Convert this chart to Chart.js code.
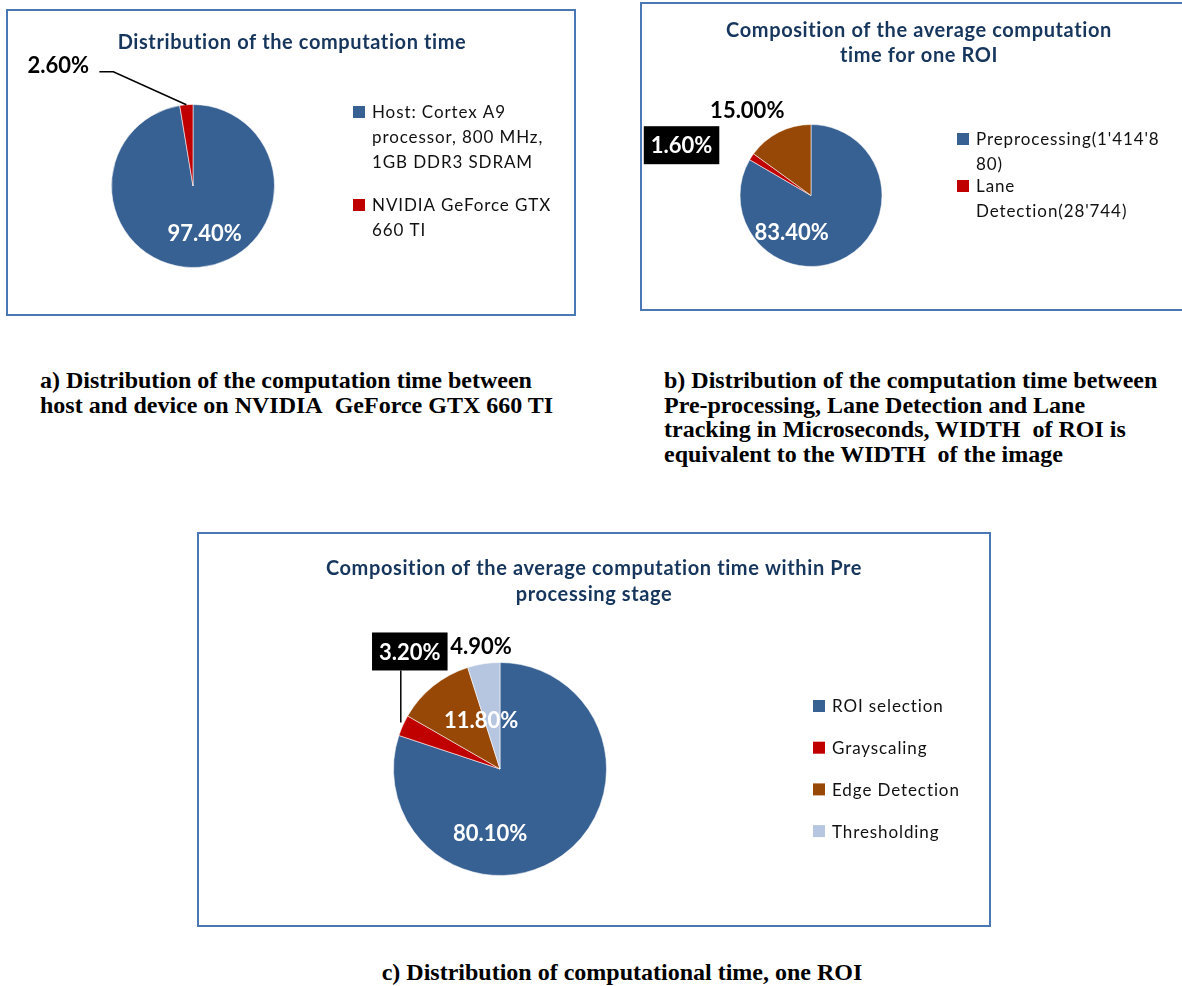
<!DOCTYPE html>
<html lang="en">
  <head>
    <meta charset="UTF-8" />
    <title>Computation time distribution</title>
    <script src="https://cdn.jsdelivr.net/npm/chart.js"></script>
    <style>
      html,
      body {
        margin: 0;
        width: 1182px;
        height: 986px;
        overflow: hidden;
        background: #fff;
      }
      .box {
        position: absolute;
        box-sizing: border-box;
        border: 2px solid #4a78b5;
      }
      .box canvas {
        display: block;
      }
      .caption {
        position: absolute;
        font-family: "Liberation Serif", "Times New Roman", serif;
        font-weight: bold;
        font-size: 24px;
        line-height: 24.5px;
        color: #000;
        white-space: nowrap;
      }
    </style>
  </head>
  <body>
    <div class="box" style="left: 6px; top: 9px; width: 570px; height: 307px">
      <canvas id="chartA" width="566" height="303"></canvas>
    </div>
    <div class="box" style="left: 640px; top: 2px; width: 560px; height: 309px">
      <canvas id="chartB" width="556" height="305"></canvas>
    </div>
    <div class="box" style="left: 197px; top: 532px; width: 794px; height: 395px">
      <canvas id="chartC" width="790" height="391"></canvas>
    </div>

    <div class="caption" style="left: 40px; top: 368px">
      a) Distribution of the computation time between<br />
      host and device on NVIDIA&nbsp; GeForce GTX 660 TI
    </div>
    <div class="caption" style="left: 664px; top: 368px">
      b) Distribution of the computation time between<br />
      Pre-processing, Lane Detection and Lane<br />
      tracking in Microseconds, WIDTH&nbsp; of ROI is<br />
      equivalent to the WIDTH&nbsp; of the image
    </div>
    <div class="caption" style="left: 372px; top: 960px; width: 500px; text-align: center">
      c) Distribution of computational time, one ROI
    </div>

    <script>
      // chart data
      const hostLabels = [
        "Host: Cortex A9 processor, 800 MHz, 1GB DDR3 SDRAM",
        "NVIDIA GeForce GTX 660 TI",
      ];
      const hostValues = [97.4, 2.6];

      const roiLabels = [
        "Preprocessing(1'414'880)",
        "Lane Detection(28'744)",
        "Lane Tracking",
      ];
      const roiValues = [83.4, 1.6, 15.0];

      const preLabels = ["ROI selection", "Grayscaling", "Edge Detection", "Thresholding"];
      const preValues = [80.1, 3.2, 11.8, 4.9];

      const titleA = ["Distribution of the computation time"];
      const titleB = ["Composition of the average computation", "time for one ROI"];
      const titleC = [
        "Composition of the average computation time within Pre",
        "processing stage",
      ];

      const sliceColors = ["#386193", "#c00000", "#974806", "#b7c6e0"];
      const titleColor = "#17365d";
      const sansFont = "Lato, 'Open Sans', sans-serif";

      // word wrap like Excel: break long words by character
      function wrapText(ctx, text, maxWidth) {
        const lines = [];
        let line = "";
        text.split(" ").forEach((word) => {
          const test = line ? line + " " + word : word;
          if (ctx.measureText(test).width <= maxWidth) {
            line = test;
            return;
          }
          if (line) lines.push(line);
          line = "";
          for (const ch of word) {
            if (ctx.measureText(line + ch).width > maxWidth && line) {
              lines.push(line);
              line = ch;
            } else {
              line += ch;
            }
          }
        });
        if (line) lines.push(line);
        return lines;
      }

      // titles, legends and data labels
      const decorPlugin = {
        id: "decor",
        afterDraw(chart, args, opts) {
          const ctx = chart.ctx;
          const meta = chart.getDatasetMeta(0);
          const values = chart.data.datasets[0].data;
          ctx.save();

          // title
          ctx.fillStyle = titleColor;
          ctx.font = "bold 20px " + sansFont;
          ctx.letterSpacing = "0.6px";
          ctx.textAlign = "center";
          ctx.textBaseline = "middle";
          opts.title.lines.forEach((t, i) => {
            ctx.fillText(t, opts.title.x, opts.title.y + i * opts.title.lineHeight);
          });

          // legend
          const lg = opts.legend;
          ctx.font = "17px " + sansFont;
          ctx.letterSpacing = "0.9px";
          ctx.textAlign = "left";
          let y = lg.y;
          chart.data.labels.slice(0, lg.count).forEach((label, i) => {
            ctx.fillStyle = sliceColors[i];
            ctx.fillRect(lg.boxX, y - 6, 12, 12);
            ctx.fillStyle = "#111";
            const lines = wrapText(ctx, label, lg.maxWidth);
            lines.forEach((l, j) => ctx.fillText(l, lg.textX, y + 1 + j * lg.lineHeight));
            y += lines.length * lg.lineHeight + lg.gap;
          });

          // data labels
          ctx.font = "bold 22px " + sansFont;
          ctx.letterSpacing = "0px";
          ctx.textAlign = "center";
          meta.data.forEach((arc, i) => {
            const lab = opts.labels[i];
            const p = arc.getProps(["x", "y", "startAngle", "endAngle", "outerRadius"], true);
            const mid = (p.startAngle + p.endAngle) / 2;
            const ax = p.x + Math.cos(mid) * p.outerRadius * lab.f;
            const ay = p.y + Math.sin(mid) * p.outerRadius * lab.f;
            const tx = ax + lab.dx;
            const ty = ay + lab.dy;
            const text = values[i].toFixed(2) + "%";

            if (lab.leader) {
              ctx.strokeStyle = "#000";
              ctx.lineWidth = 1.5;
              ctx.beginPath();
              lab.leader.forEach(([lx, ly], k) => {
                if (k === 0) ctx.moveTo(ax + lx, ay + ly);
                else ctx.lineTo(ax + lx, ay + ly);
              });
              ctx.stroke();
            }
            if (lab.box) {
              const w = ctx.measureText(text).width + 14;
              ctx.fillStyle = "#000";
              ctx.fillRect(tx - w / 2, ty - 19, w, 38);
            }
            ctx.fillStyle = lab.color;
            ctx.fillText(text, tx, ty + 1);
          });
          ctx.restore();
        },
      };

      function makePie(id, labels, values, padding, decor) {
        return new Chart(document.getElementById(id), {
          type: "pie",
          data: {
            labels: labels,
            datasets: [
              {
                data: values,
                backgroundColor: sliceColors.slice(0, values.length),
                borderColor: "rgba(255,255,255,0.55)",
                borderWidth: 1,
              },
            ],
          },
          options: {
            responsive: false,
            animation: false,
            layout: { padding: padding },
            plugins: {
              legend: { display: false },
              tooltip: { enabled: false },
              decor: decor,
            },
          },
          plugins: [decorPlugin],
        });
      }

      // a) host vs device
      makePie(
        "chartA",
        hostLabels,
        hostValues,
        { left: 103, right: 299, top: 93, bottom: 46 },
        {
          title: { lines: titleA, x: 284, y: 32, lineHeight: 26 },
          legend: { boxX: 345, textX: 364, y: 101, lineHeight: 25, gap: 18, maxWidth: 186, count: 2 },
          labels: [
            { f: 0.56, dx: 8, dy: 1, color: "#fff" },
            { f: 1, dx: -128, dy: -40, color: "#000", leader: [[0, 0], [-73, -33], [-87, -33]] },
          ],
        }
      );

      // b) one ROI
      makePie(
        "chartB",
        roiLabels,
        roiValues,
        { left: 97, right: 315, top: 120, bottom: 42 },
        {
          title: { lines: titleB, x: 277, y: 27, lineHeight: 25 },
          legend: { boxX: 315, textX: 334, y: 135, lineHeight: 25, gap: -3, maxWidth: 192, count: 2 },
          labels: [
            { f: 0.5, dx: -37, dy: 5.5, color: "#fff" },
            { f: 1, dx: -70, dy: -11.5, color: "#fff", box: true },
            { f: 1, dx: -31.5, dy: -22, color: "#000" },
          ],
        }
      );

      // c) pre-processing stage
      makePie(
        "chartC",
        preLabels,
        preValues,
        { left: 194, right: 382, top: 128, bottom: 49 },
        {
          title: { lines: titleC, x: 395, y: 35, lineHeight: 26 },
          legend: { boxX: 614, textX: 633, y: 172, lineHeight: 25, gap: 16.7, maxWidth: 200, count: 4 },
          labels: [
            { f: 0.5, dx: -41, dy: 20.6, color: "#fff" },
            { f: 1, dx: 7, dy: -74, color: "#fff", box: true, leader: [[-2, -3], [-2, -55]] },
            { f: 0.5, dx: 14.6, dy: -7.4, color: "#fff" },
            { f: 1, dx: -2.6, dy: -18.3, color: "#000" },
          ],
        }
      );
    </script>
  </body>
</html>
